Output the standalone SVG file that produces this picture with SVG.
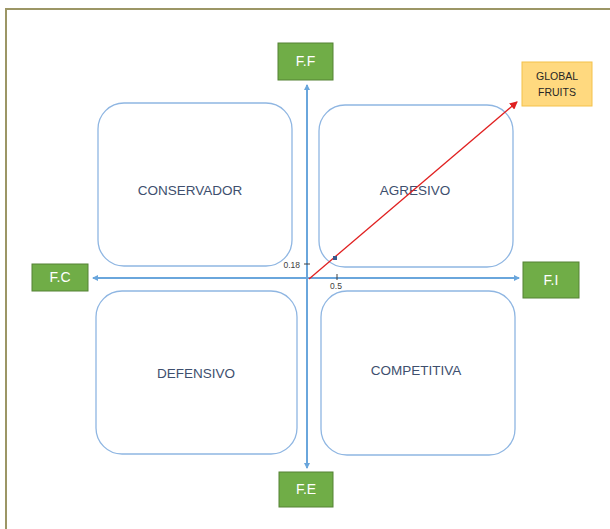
<svg xmlns="http://www.w3.org/2000/svg" width="610" height="529" viewBox="0 0 610 529">
  <style>
    .quad { fill: #ffffff; stroke: #8fb6e2; stroke-width: 1.3; }
    .qlabel { font-family: "Liberation Sans", Arial, sans-serif; font-size: 13.5px; fill: #3e4f6e; text-anchor: middle; }
    .factor { fill: #70ad47; stroke: #548235; stroke-width: 1; }
    .flabel { font-family: "Liberation Sans", Arial, sans-serif; font-size: 14px; fill: #ffffff; text-anchor: middle; }
    .axis { stroke: #6aa6dc; stroke-width: 2; fill: none; }
    .tick { stroke: #404040; stroke-width: 1; }
    .small { font-family: "Liberation Sans", Arial, sans-serif; font-size: 8.5px; fill: #404040; }
  </style>
  <defs>
    <marker id="blueArrow" markerWidth="6" markerHeight="6" refX="5" refY="3" orient="auto" markerUnits="userSpaceOnUse">
      <path d="M0,0 L6,3 L0,6 Z" fill="#6aa6dc"/>
    </marker>
    <marker id="redArrow" markerWidth="8" markerHeight="8" refX="7" refY="4" orient="auto" markerUnits="userSpaceOnUse">
      <path d="M0,0 L8,4 L0,8 Z" fill="#e02020"/>
    </marker>
  </defs>

  <rect width="610" height="529" fill="#ffffff"/>
  <!-- page frame -->
  <path d="M6,540 L6,9 L620,9" fill="none" stroke="#9c9665" stroke-width="2"/>

  <!-- quadrants -->
  <g id="conservador">
    <rect class="quad" x="98" y="103" width="194" height="163" rx="26"/>
    <text class="qlabel" x="190" y="195">CONSERVADOR</text>
  </g>
  <g id="agresivo">
    <rect class="quad" x="319" y="105" width="194" height="162" rx="26"/>
    <text class="qlabel" x="415" y="195">AGRESIVO</text>
  </g>
  <g id="defensivo">
    <rect class="quad" x="96" y="291" width="201" height="163" rx="26"/>
    <text class="qlabel" x="196" y="378">DEFENSIVO</text>
  </g>
  <g id="competitiva">
    <rect class="quad" x="321" y="291" width="194" height="164" rx="26"/>
    <text class="qlabel" x="416" y="375">COMPETITIVA</text>
  </g>

  <!-- axes, ticks and vector -->
  <g id="connectors">
    <line class="axis" x1="307" y1="467" x2="307" y2="85" marker-end="url(#blueArrow)"/>
    <line class="axis" x1="307" y1="278" x2="307" y2="468" marker-end="url(#blueArrow)"/>
    <line class="axis" x1="307" y1="278" x2="93" y2="278" marker-end="url(#blueArrow)"/>
    <line class="axis" x1="307" y1="278" x2="519" y2="278" marker-end="url(#blueArrow)"/>
    <line class="tick" x1="304" y1="264" x2="310" y2="264"/>
    <line class="tick" x1="337" y1="274" x2="337" y2="280"/>
    <line x1="309" y1="279" x2="517" y2="102" stroke="#e02020" stroke-width="1.3" marker-end="url(#redArrow)"/>
    <rect x="333" y="256" width="4" height="4" fill="#3a5a8c"/>
  </g>
  <text class="small" x="300" y="268" text-anchor="end">0.18</text>
  <text class="small" x="336" y="289" text-anchor="middle">0.5</text>

  <!-- factor labels -->
  <g id="ff">
    <rect class="factor" x="278" y="43" width="55" height="37"/>
    <text class="flabel" x="305.5" y="66">F.F</text>
  </g>
  <g id="fc">
    <rect class="factor" x="32" y="264" width="56" height="27"/>
    <text class="flabel" x="60" y="282">F.C</text>
  </g>
  <g id="fi">
    <rect class="factor" x="523" y="262" width="56" height="36"/>
    <text class="flabel" x="551" y="285">F.I</text>
  </g>
  <g id="fe">
    <rect class="factor" x="279" y="472" width="54" height="35"/>
    <text class="flabel" x="306" y="494">F.E</text>
  </g>

  <!-- company position -->
  <g id="global-fruits">
    <rect x="522" y="62" width="70" height="44" fill="#ffd97f" stroke="#f4c14a" stroke-width="1"/>
    <text x="557" y="80" font-family="'Liberation Sans', Arial, sans-serif" font-size="10.5" fill="#262626" text-anchor="middle">GLOBAL</text>
    <text x="557" y="96" font-family="'Liberation Sans', Arial, sans-serif" font-size="10.5" fill="#262626" text-anchor="middle">FRUITS</text>
  </g>
</svg>
